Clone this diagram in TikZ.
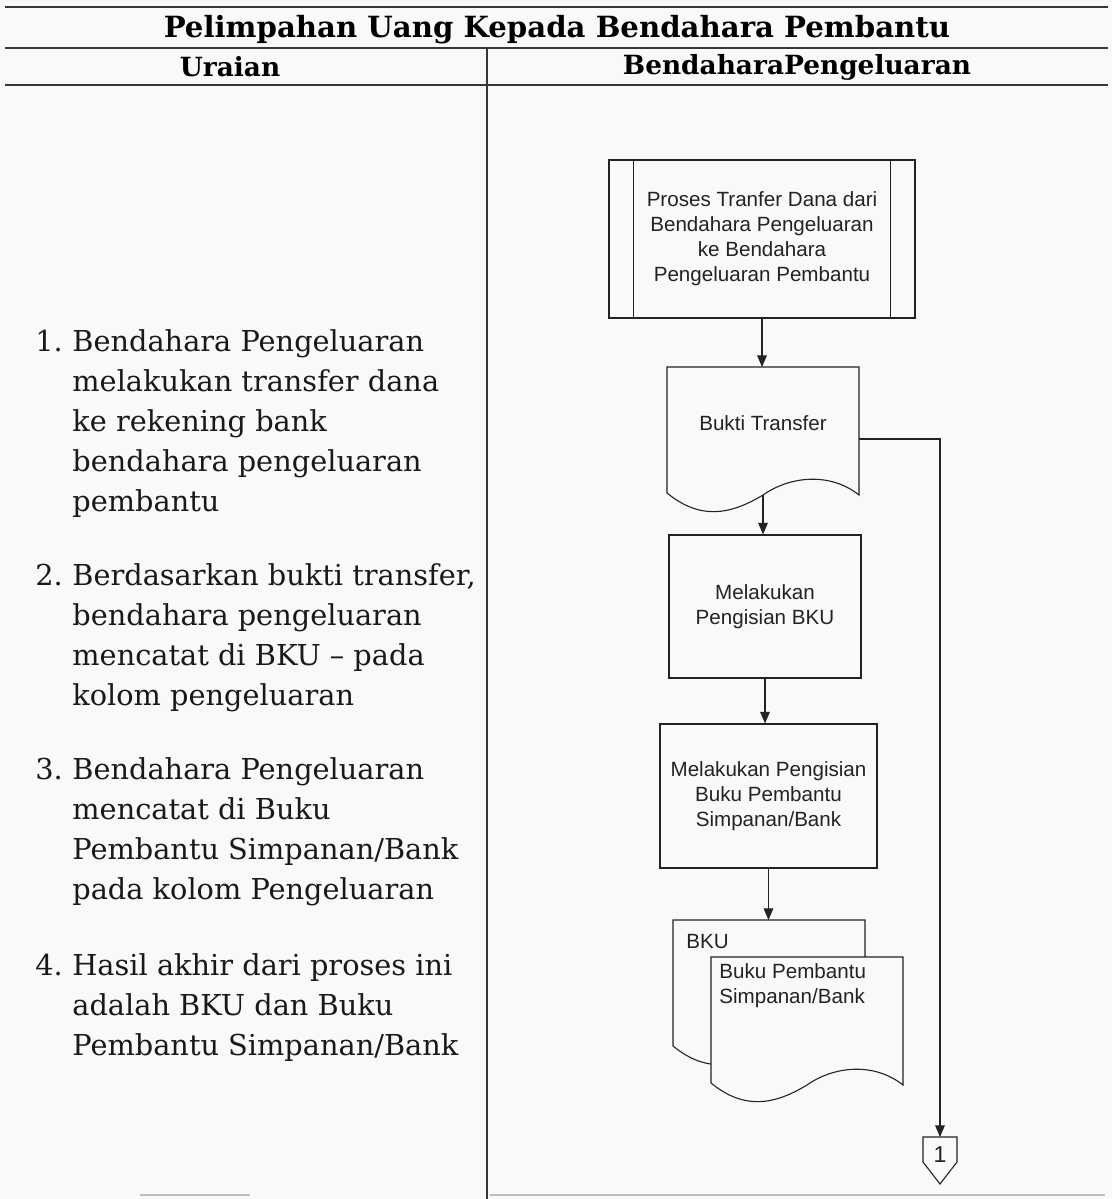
\documentclass[tikz,border=0pt]{standalone}
\usepackage{fontspec}
\setmainfont{DejaVu Serif}
\newfontfamily\flowfont{Liberation Sans}
\usetikzlibrary{arrows.meta}

\definecolor{paper}{RGB}{249,249,247}
\definecolor{ink}{RGB}{35,35,35}
\definecolor{rulecol}{RGB}{55,55,55}

\begin{document}
\begin{tikzpicture}[x=0.5pt,y=-0.5pt,
  hrule/.style={draw=rulecol,line width=1.1pt},
  vrule/.style={draw=rulecol,line width=0.7pt},
  flow/.style={draw=ink,line width=0.55pt},
  arr/.style={flow,-{Triangle[length=5.8pt,width=4.8pt]}},
  titletext/.style={font=\bfseries\fontsize{14.6}{17}\selectfont,inner sep=0pt},
  headtext/.style={font=\bfseries\fontsize{13.2}{16}\selectfont,inner sep=0pt},
  flowtext/.style={font=\flowfont\fontsize{10.3}{12.5}\selectfont,text=ink,align=center,inner sep=0pt},
  procbox/.style={flow,rectangle,fill=paper,flowtext},
  listitem/.style={anchor=north west,inner sep=0pt,
    font=\fontsize{14.4}{20}\selectfont,text=black!90},
  pics/docshape/.style={code={
    \draw[flow,fill=paper] (-96,-64) -- (96,-64) -- (96,64)
      .. controls (67,41) and (27,45) .. (0,64)
      .. controls (-33,84) and (-63,89) .. (-96,62) -- cycle;
    \coordinate (-top) at (0,-64);
    \coordinate (-bot) at (0,64);
    \coordinate (-right) at (96,8);
  }}
]
% paper and frame of the sheet
\fill[paper] (0,0) rectangle (1112,1199);
\useasboundingbox (0,0) rectangle (1112,1199);

% table rules
\draw[hrule] (5,7) -- (1108,7);
\draw[hrule] (5,48) -- (1108,48);
\draw[hrule] (5,85) -- (1108,85);
\draw[vrule] (487,48) -- (487,1199);
\draw[draw=black!25,line width=1pt] (140,1195) -- (250,1195);
\draw[draw=black!25,line width=1pt] (490,1195) -- (1105,1195);

% headings
\node[titletext] (title) at (557,30) {Pelimpahan Uang Kepada Bendahara Pembantu};
\node[headtext] (colA) at (230,67) {Uraian};
\node[headtext] (colB) at (797,67) {BendaharaPengeluaran};

% description column
\node[listitem] (item1) at (35,323) {\begin{tabular}{@{}p{18.5pt}@{}l@{}}
1. & Bendahara Pengeluaran\\
   & melakukan transfer dana\\
   & ke rekening bank\\
   & bendahara pengeluaran\\
   & pembantu\end{tabular}};
\node[listitem] (item2) at (35,557) {\begin{tabular}{@{}p{18.5pt}@{}l@{}}
2. & Berdasarkan bukti transfer,\\
   & bendahara pengeluaran\\
   & mencatat di BKU -- pada\\
   & kolom pengeluaran\end{tabular}};
\node[listitem] (item3) at (35,751) {\begin{tabular}{@{}p{18.5pt}@{}l@{}}
3. & Bendahara Pengeluaran\\
   & mencatat di Buku\\
   & Pembantu Simpanan/Bank\\
   & pada kolom Pengeluaran\end{tabular}};
\node[listitem] (item4) at (35,947) {\begin{tabular}{@{}p{18.5pt}@{}l@{}}
4. & Hasil akhir dari proses ini\\
   & adalah BKU dan Buku\\
   & Pembantu Simpanan/Bank\end{tabular}};

% predefined process
\node[procbox,minimum width=153pt,minimum height=79pt] (proc) at (762,239)
  {Proses Tranfer Dana dari\\Bendahara Pengeluaran\\ke Bendahara\\Pengeluaran Pembantu};
\draw[flow] ([xshift=12.5pt]proc.north west) -- ([xshift=12.5pt]proc.south west);
\draw[flow] ([xshift=-12.5pt]proc.north east) -- ([xshift=-12.5pt]proc.south east);

% transfer slip
\pic (slip) at (763,431) {docshape};
\node[flowtext] (sliptext) at (763,423) {Bukti Transfer};

% process boxes
\node[procbox,minimum width=96pt,minimum height=71.5pt] (bku) at (765,606.5)
  {Melakukan\\Pengisian BKU};
\node[procbox,minimum width=108.5pt,minimum height=72pt] (bukubox) at (768.5,796)
  {Melakukan Pengisian\\Buku Pembantu\\Simpanan/Bank};

% output documents
\pic (backdoc) at (769,984) {docshape};
\pic (frontdoc) at (807,1021) {docshape};
\node[flowtext,anchor=west] (bkulabel) at (686,942) {BKU};
\node[flowtext,anchor=north west,align=left] (bukulabel) at (719,963)
  {Buku Pembantu\\Simpanan/Bank};

% off-page connector
\coordinate (conntop) at (940,1137);
\draw[flow,fill=paper] (conntop) -- (957,1137) -- (957,1162) -- (940,1184)
  -- (923,1162) -- (923,1137) -- cycle;
\node[flowtext,font=\flowfont\fontsize{11.5}{13}\selectfont] (conn) at (940,1155) {1};

% connectors
\draw[arr] (proc.south) -- (proc.south |- slip-top);
\draw[arr] (slip-bot) -- (slip-bot |- bku.north);
\draw[arr] (bku.south) -- (bku.south |- bukubox.north);
\draw[arr] (bukubox.south) -- (bukubox.south |- backdoc-top);
\draw[arr] (slip-right) -| (conntop);
\end{tikzpicture}
\end{document}
